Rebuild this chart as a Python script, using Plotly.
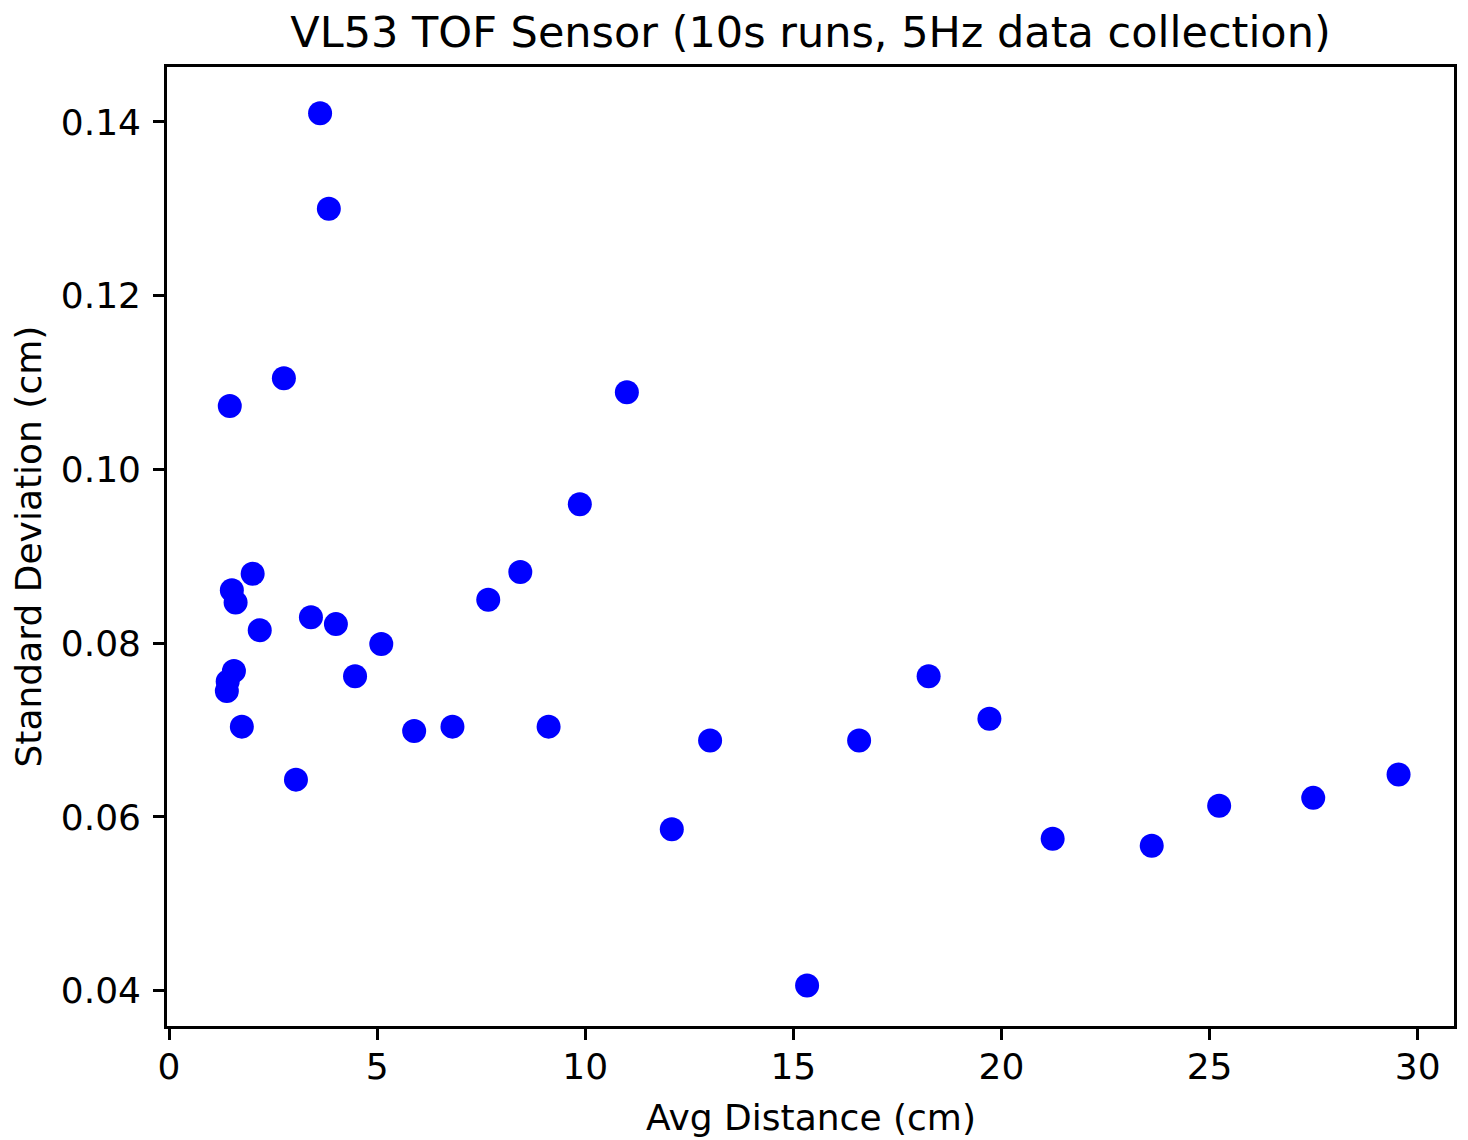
import plotly.graph_objects as go

avg_distance = [3.63, 3.84, 2.76, 1.46, 11.0, 9.87, 2.01, 1.51, 1.60, 2.18,
                3.41, 4.01, 5.10, 4.47, 7.67, 8.44, 1.56, 1.41, 1.39, 1.75,
                3.05, 5.89, 6.81, 9.12, 13.0, 12.08, 15.33, 16.58, 18.25, 19.71,
                21.23, 23.61, 25.23, 27.49, 29.54]
std_dev = [0.1410, 0.1300, 0.1105, 0.1073, 0.1089, 0.0960, 0.0880, 0.0861, 0.0847, 0.0815,
           0.0830, 0.0822, 0.0799, 0.0762, 0.0850, 0.0882, 0.0768, 0.0756, 0.0745, 0.0704,
           0.0643, 0.0699, 0.0704, 0.0704, 0.0688, 0.0586, 0.0406, 0.0688, 0.0762, 0.0713,
           0.0575, 0.0567, 0.0613, 0.0622, 0.0649]

x_ticks = [0, 5, 10, 15, 20, 25, 30]
y_ticks = [0.04, 0.06, 0.08, 0.10, 0.12, 0.14]
y_tick_labels = ["0.04", "0.06", "0.08", "0.10", "0.12", "0.14"]

title_text = "VL53 TOF Sensor (10s runs, 5Hz data collection)"
x_label = "Avg Distance (cm)"
y_label = "Standard Deviation (cm)"

FONT = "DejaVu Sans"
H_PLOT = 1026 - 67

fig = go.Figure()
fig.add_trace(go.Scatter(
    x=avg_distance, y=std_dev, mode="markers",
    marker=dict(color="#0000ff", size=24, line=dict(width=0)),
    showlegend=False,
))

axis_common = dict(
    showgrid=False, zeroline=False, showline=True, mirror=True,
    linecolor="#000000", linewidth=2.6,
    ticks="outside", ticklen=11, tickwidth=2.6, tickcolor="#000000",
    tickfont=dict(family=FONT, size=36, color="#000000"),
)

fig.update_layout(
    width=1468, height=1140,
    margin=dict(l=167, r=14, t=67, b=114),
    paper_bgcolor="white", plot_bgcolor="white",
    title=dict(text=title_text, x=0.5, xref="paper", xanchor="center",
               y=1 - 32 / 1140, yref="container", yanchor="middle",
               font=dict(family=FONT, size=43, color="#000000")),
    xaxis=dict(range=[-0.048, 30.872], tickvals=x_ticks, ticklabelstandoff=-4, **axis_common),
    yaxis=dict(range=[0.03594, 0.14633], tickvals=y_ticks, ticktext=y_tick_labels,
               ticklabelstandoff=5, **axis_common),
    annotations=[
        dict(text=x_label, xref="paper", yref="paper", x=0.5, y=(1026 - 1117) / H_PLOT,
             xanchor="center", yanchor="middle", showarrow=False,
             font=dict(family=FONT, size=36, color="#000000")),
        dict(text=y_label, xref="paper", yref="paper", x=(28 - 167) / 1287, y=0.5,
             xanchor="center", yanchor="middle", showarrow=False, textangle=-90,
             font=dict(family=FONT, size=36, color="#000000")),
    ],
)

fig.write_html("out.html")
